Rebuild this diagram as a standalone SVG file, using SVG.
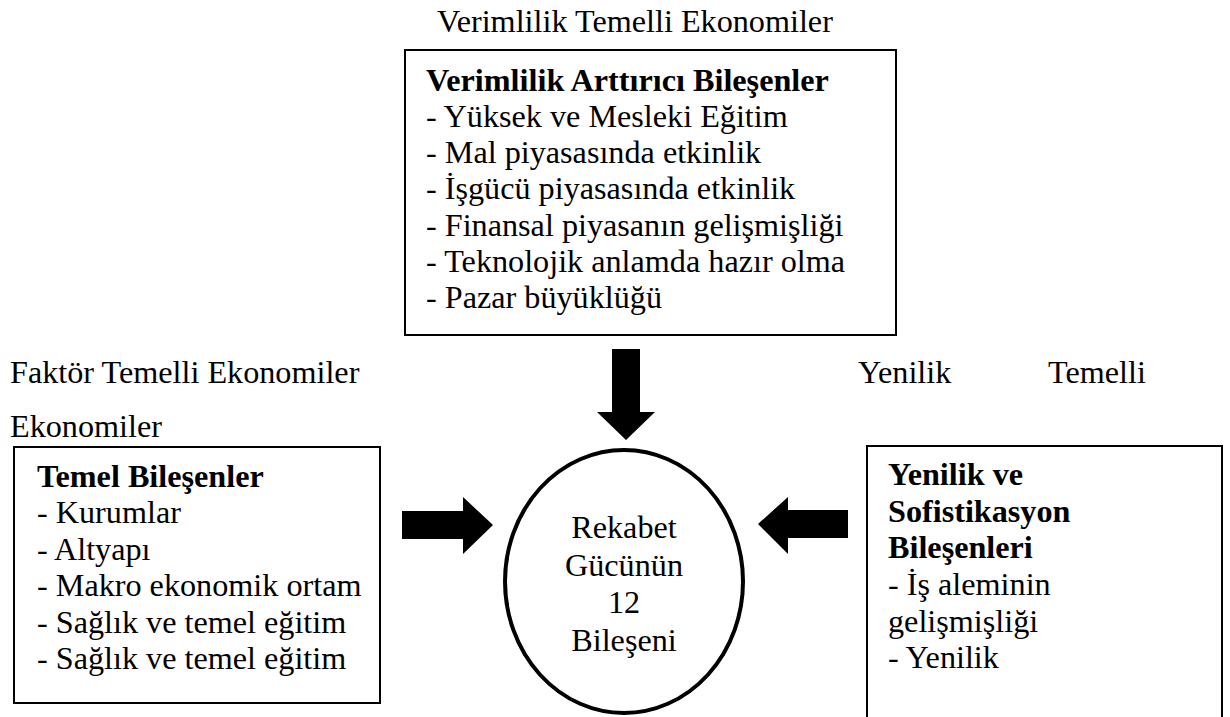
<svg xmlns="http://www.w3.org/2000/svg" width="1230" height="717" viewBox="0 0 1230 717">
<style>
text{font-family:'Liberation Serif','DejaVu Serif',serif;font-size:32.2px;fill:#000}
.b{font-weight:bold}
.box{fill:#fff;stroke:#000;stroke-width:2}
.arr{fill:#000;stroke:none}
</style>
<rect width="1230" height="717" fill="#fff"/>
<g id="labels">
<text x="437" y="32">Verimlilik Temelli Ekonomiler</text>
<text x="10" y="383">Faktör Temelli Ekonomiler</text>
<text x="10" y="437">Ekonomiler</text>
<text x="858" y="383">Yenilik</text>
<text x="1048" y="383">Temelli</text>
</g>
<g id="top-box">
<rect class="box" x="405" y="50" width="491" height="285"/>
<text class="b" x="426" y="91">Verimlilik Arttırıcı Bileşenler</text>
<text x="426" y="127">- Yüksek ve Mesleki Eğitim</text>
<text x="426" y="163">- Mal piyasasında etkinlik</text>
<text x="426" y="199">- İşgücü piyasasında etkinlik</text>
<text x="426" y="236">- Finansal piyasanın gelişmişliği</text>
<text x="426" y="272">- Teknolojik anlamda hazır olma</text>
<text x="426" y="308">- Pazar büyüklüğü</text>
</g>
<g id="left-box">
<rect class="box" x="14" y="447" width="366" height="256"/>
<text class="b" x="37" y="487">Temel Bileşenler</text>
<text x="37" y="523">- Kurumlar</text>
<text x="37" y="560">- Altyapı</text>
<text x="37" y="596">- Makro ekonomik ortam</text>
<text x="37" y="633">- Sağlık ve temel eğitim</text>
<text x="37" y="669">- Sağlık ve temel eğitim</text>
</g>
<g id="right-box">
<path d="M867,720 V446 H1222 V720" fill="#fff" stroke="#000" stroke-width="2"/>
<text class="b" x="888" y="485">Yenilik ve</text>
<text class="b" x="888" y="522">Sofistikasyon</text>
<text class="b" x="888" y="558">Bileşenleri</text>
<text x="888" y="595">- İş aleminin</text>
<text x="888" y="632">gelişmişliği</text>
<text x="888" y="668">- Yenilik</text>
</g>
<g id="center">
<ellipse cx="624" cy="581.5" rx="119" ry="131.5" fill="#fff" stroke="#000" stroke-width="4"/>
<text x="624" y="538" text-anchor="middle">Rekabet</text>
<text x="624" y="576" text-anchor="middle">Gücünün</text>
<text x="624" y="613" text-anchor="middle">12</text>
<text x="624" y="651" text-anchor="middle">Bileşeni</text>
</g>
<g id="connectors">
<polygon class="arr" points="612,349 640,349 640,412 655,412 626,440 597,412 612,412"/>
<polygon class="arr" points="402,511 463,511 463,497 493,525 463,554 463,539 402,539"/>
<polygon class="arr" points="848,510 788,510 788,497 758,524 788,554 788,538 848,538"/>
</g>
</svg>
